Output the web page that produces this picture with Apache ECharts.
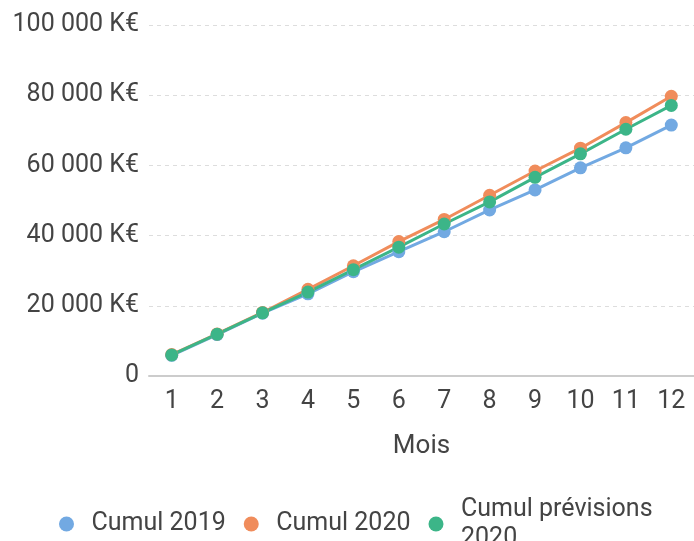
<!DOCTYPE html>
<html>
<head>
<meta charset="utf-8">
<script src="https://cdn.jsdelivr.net/npm/echarts@6/dist/echarts.min.js"></script>
<style>
  html, body { margin: 0; padding: 0; background: #fff; }
  #chart { width: 694px; height: 541px; }
</style>
</head>
<body>
<div id="chart"></div>
<script>
// mois
const months = ['1', '2', '3', '4', '5', '6', '7', '8', '9', '10', '11', '12'];
// valeurs cumulées en K€
const cumul2019 = [5900, 11800, 17900, 23400, 29700, 35400, 41100, 47300, 53000, 59300, 65000, 71500];
const cumul2020 = [6100, 12000, 18100, 24700, 31400, 38300, 44600, 51500, 58400, 64900, 72200, 79700];
const cumulPrev2020 = [6000, 11900, 18000, 23900, 30300, 36700, 43300, 49600, 56600, 63300, 70300, 77100];

const seriesNames = ['Cumul 2019', 'Cumul 2020', 'Cumul prévisions 2020'];
const seriesColors = ['#72a9e2', '#f08c5b', '#3cb588'];

const font = 'Roboto, Arial, sans-serif';
const textColor = '#444';

function fmtK(v) {
    if (v === 0) return '0';
    return String(v).replace(/\B(?=(\d{3})+(?!\d))/g, ' ') + ' K€';
}

const chart = echarts.init(document.getElementById('chart'));

const option = {
    animation: false,
    color: seriesColors,
    grid: {
        left: 149,
        top: 25,
        width: 550,
        height: 351
    },
    legend: {
        top: 490,
        left: 54,
        icon: 'circle',
        itemWidth: 40,
        itemHeight: 15,
        itemGap: 18,
        textStyle: {
            fontFamily: font,
            fontSize: 25,
            color: textColor,
            lineHeight: 29
        },
        // le libellé long passe sur deux lignes
        formatter: function (name) {
            return name.length > 15 ? name.replace(/ (\S+)$/, '\n$1') : name;
        },
        data: seriesNames
    },
    xAxis: {
        type: 'category',
        data: months,
        boundaryGap: true,
        name: 'Mois',
        nameLocation: 'middle',
        nameGap: 57,
        nameTextStyle: {
            fontFamily: font,
            fontSize: 26,
            color: textColor
        },
        axisLine: { lineStyle: { color: '#ccc', width: 2 } },
        axisTick: { alignWithLabel: true, length: 8, lineStyle: { color: '#ccc', width: 2 } },
        axisLabel: {
            margin: 13,
            fontFamily: font,
            fontSize: 25,
            color: textColor
        }
    },
    yAxis: {
        type: 'value',
        min: 0,
        max: 100000,
        interval: 20000,
        axisLine: { show: false },
        axisTick: { show: false },
        splitLine: { lineStyle: { color: '#ddd', type: [4, 4], width: 1 } },
        axisLabel: {
            margin: 10,
            fontFamily: font,
            fontSize: 25,
            color: textColor,
            formatter: fmtK
        }
    },
    series: [
        { name: seriesNames[0], data: cumul2019 },
        { name: seriesNames[1], data: cumul2020 },
        { name: seriesNames[2], data: cumulPrev2020 }
    ].map(s => ({
        name: s.name,
        type: 'line',
        data: s.data,
        symbol: 'circle',
        symbolSize: 13,
        lineStyle: { width: 3 }
    }))
};

chart.setOption(option);
</script>
</body>
</html>
